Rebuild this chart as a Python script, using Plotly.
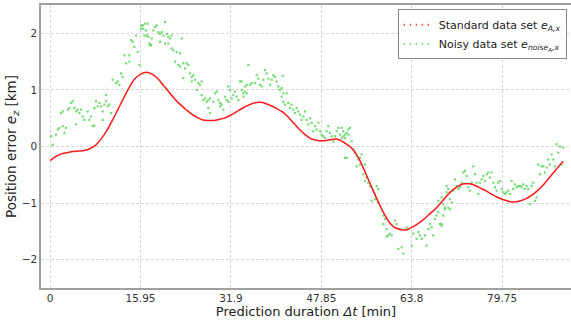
import plotly.graph_objects as go

# Standard data set (smooth curve)
std_t = [0, 1, 2, 3, 4, 5, 6, 7, 8, 9, 10, 11, 12, 13, 14, 15, 16, 17, 18, 19, 20,
         21, 22, 23, 24, 25, 26, 27, 28, 29, 30, 31, 32, 33, 34, 35, 36, 37, 38, 39, 40,
         41, 42, 43, 44, 45, 46, 47, 48, 49, 50, 51, 52, 53, 54, 55, 56, 57, 58, 59, 60,
         61, 62, 63, 64, 65, 66, 67, 68, 69, 70, 71, 72, 73, 74, 75, 76, 77, 78, 79, 80,
         81, 82, 83, 84, 85, 86, 87, 88, 89, 90, 90.5]
std_v = [-0.25, -0.18, -0.13, -0.11, -0.09, -0.08, -0.07, -0.04, 0.02, 0.13, 0.28, 0.46, 0.66, 0.86, 1.05, 1.2, 1.28, 1.31, 1.28, 1.2, 1.08,
         0.96, 0.84, 0.74, 0.65, 0.57, 0.51, 0.47, 0.46, 0.46, 0.48, 0.51, 0.56, 0.62, 0.68, 0.73, 0.77, 0.78, 0.76, 0.72, 0.67,
         0.61, 0.52, 0.41, 0.3, 0.21, 0.14, 0.11, 0.1, 0.11, 0.13, 0.12, 0.06, -0.01, -0.13, -0.32, -0.55, -0.78, -1.0, -1.2, -1.36,
         -1.44, -1.47, -1.47, -1.42, -1.36, -1.28, -1.19, -1.1, -0.99, -0.87, -0.77, -0.7, -0.66, -0.66, -0.69, -0.74, -0.79, -0.85, -0.9, -0.94,
         -0.97, -0.98, -0.96, -0.92, -0.86, -0.78, -0.68, -0.56, -0.44, -0.32, -0.26]

# Noisy data set (scattered points)
noisy_t = [0.18, 1.06, 0.47, 1.35, 1.65, 2.24, 2.53, 2.82, 1.94, 2.24, 3.12, 3.41, 3.7, 4.0, 4.29, 4.59, 4.88, 5.17, 5.47, 5.76,
           6.05, 4.59, 6.64, 6.94, 7.23, 7.52, 7.82, 7.82, 8.11, 8.4, 8.7, 9.0, 9.29, 9.29, 9.58, 9.88, 10.17, 10.47, 10.76, 9.88,
           11.05, 11.64, 11.93, 12.23, 12.52, 12.81, 13.11, 13.4, 13.99, 13.99, 14.29, 14.58, 14.87, 15.17, 15.46, 15.76, 16.05, 16.34, 16.64, 16.93,
           17.22, 17.52, 17.81, 16.17, 16.46, 16.75, 17.05, 17.34, 17.64, 17.93, 18.22, 18.52, 18.81, 19.11, 19.4, 19.7, 19.99, 20.28, 20.58, 20.87,
           21.16, 21.46, 19.4, 20.28, 20.87, 23.22, 21.46, 21.75, 22.34, 22.93, 22.05, 22.63, 22.93, 23.51, 23.81, 24.1, 24.4, 23.51, 24.69, 24.99,
           25.28, 24.99, 25.57, 25.87, 26.16, 26.46, 26.75, 26.75, 27.04, 27.34, 27.63, 27.93, 28.22, 27.93, 28.22, 28.81, 29.1, 29.4, 29.69, 29.98,
           29.98, 30.28, 30.57, 30.86, 31.16, 31.45, 31.45, 31.75, 32.04, 32.33, 32.63, 32.92, 33.21, 33.51, 33.8, 34.1, 34.39, 34.69, 34.98, 33.8,
           34.39, 34.69, 34.1, 35.27, 35.57, 36.16, 36.45, 36.75, 37.04, 37.33, 37.63, 37.92, 38.21, 38.51, 38.8, 39.1, 39.39, 39.68, 39.98, 40.27,
           40.56, 40.86, 41.04, 41.15, 41.74, 40.86, 41.15, 41.45, 42.03, 42.33, 42.62, 42.92, 43.21, 43.51, 43.8, 44.09, 44.39, 44.68, 44.97, 45.27,
           45.56, 45.86, 46.15, 46.44, 46.74, 47.03, 47.33, 47.62, 47.91, 48.21, 48.5, 48.8, 49.09, 49.38, 49.68, 49.97, 50.26, 50.56, 50.85, 51.15,
           51.44, 51.73, 52.03, 52.32, 52.62, 51.44, 51.73, 52.03, 52.32, 52.62, 52.91, 53.2, 52.03, 53.5, 53.79, 54.09, 54.38, 54.67, 54.97, 54.09,
           54.67, 55.56, 55.26, 55.56, 55.85, 56.14, 56.44, 56.73, 57.03, 57.32, 57.62, 57.91, 56.73, 57.32, 57.91, 58.2, 58.5, 58.79, 59.08, 58.79,
           59.38, 59.96, 60.26, 59.67, 59.38, 60.85, 61.14, 61.73, 62.02, 61.43, 62.32, 62.9, 63.2, 63.79, 64.08, 64.67, 64.97, 65.26, 65.56, 66.14,
           66.43, 66.73, 67.02, 67.32, 67.61, 67.9, 68.2, 68.49, 68.78, 69.08, 68.49, 69.08, 69.37, 69.67, 69.96, 70.26, 70.55, 69.96, 70.26, 69.08,
           69.37, 69.67, 70.55, 70.85, 71.14, 71.43, 71.73, 72.02, 72.31, 72.61, 72.9, 73.19, 73.49, 73.78, 74.07, 74.37, 74.66, 74.96, 75.25, 75.54,
           75.84, 76.13, 76.42, 76.72, 77.01, 77.31, 77.6, 77.9, 78.19, 78.48, 78.78, 79.07, 79.37, 79.66, 79.95, 80.25, 80.54, 80.83, 81.13, 81.42,
           81.72, 82.01, 82.3, 82.6, 82.89, 83.19, 83.48, 83.77, 84.07, 84.36, 84.66, 84.95, 85.24, 85.54, 85.83, 86.12, 86.42, 86.72, 87.0, 87.3,
           87.6, 87.89, 88.18, 88.48, 88.77, 89.07, 89.36, 89.65, 89.95, 90.25, 90.54]
noisy_v = [0.18, 0.21, 0.03, 0.30, 0.33, 0.36, 0.24, 0.33, 0.59, 0.62, 0.65, 0.68, 0.77, 0.80, 0.68, 0.62, 0.65, 0.59, 0.65, 0.53,
           0.47, 0.39, 0.62, 0.47, 0.53, 0.36, 0.37, 0.68, 0.80, 0.71, 0.77, 0.71, 0.62, 0.47, 0.74, 0.80, 0.71, 0.74, 0.59, 0.91,
           1.18, 1.12, 1.15, 1.09, 1.29, 1.23, 1.61, 1.47, 1.50, 1.61, 1.88, 1.85, 1.76, 1.96, 1.67, 1.44, 2.08, 2.14, 1.96, 2.05,
           2.17, 1.82, 1.79, 2.14, 2.08, 2.17, 1.96, 1.94, 1.79, 1.91, 2.05, 2.11, 2.14, 2.02, 1.99, 2.02, 1.96, 2.20, 1.99, 1.94,
           1.91, 1.96, 1.85, 1.82, 1.82, 1.91, 1.73, 1.70, 1.67, 1.65, 1.50, 1.44, 1.41, 1.47, 1.38, 1.47, 1.44, 1.21, 1.29, 1.23,
           1.26, 1.15, 1.18, 1.00, 1.12, 1.09, 1.15, 0.91, 0.82, 0.85, 0.79, 0.82, 0.85, 0.68, 0.59, 0.79, 0.94, 0.97, 0.82, 0.77,
           0.71, 0.74, 0.65, 0.88, 0.82, 0.79, 1.06, 1.00, 0.85, 0.91, 0.97, 0.88, 0.82, 1.15, 1.00, 0.94, 0.97, 1.09, 1.44, 1.15,
           1.06, 0.94, 0.88, 1.09, 1.12, 1.12, 1.26, 1.20, 1.09, 1.06, 1.18, 1.35, 1.29, 1.20, 1.09, 1.18, 1.26, 1.23, 1.15, 1.06,
           1.00, 1.03, 1.25, 0.94, 0.94, 0.88, 0.79, 0.74, 0.77, 0.68, 0.74, 0.65, 0.59, 0.68, 0.62, 0.56, 0.47, 0.53, 0.62, 0.47,
           0.39, 0.50, 0.42, 0.27, 0.36, 0.30, 0.42, 0.27, 0.21, 0.18, 0.15, 0.27, 0.36, 0.24, 0.18, 0.09, 0.18, 0.27, 0.33, 0.21,
           0.15, 0.27, 0.21, -0.20, 0.30, 0.33, 0.18, 0.15, 0.24, 0.21, 0.33, 0.09, -0.20, -0.05, -0.11, -0.17, -0.23, -0.20, -0.14, -0.35,
           -0.32, -0.32, -0.49, -0.61, -0.55, -0.64, -0.70, -0.72, -0.78, -0.84, -0.70, -0.75, -0.96, -0.93, -0.99, -1.05, -1.13, -1.22, -1.28, -1.37,
           -1.46, -1.54, -1.57, -1.57, -1.59, -1.31, -1.37, -1.46, -1.78, -1.81, -1.89, -1.43, -1.46, -1.75, -1.54, -1.63, -1.51, -1.57, -1.63, -1.57,
           -1.75, -1.46, -1.37, -1.43, -1.57, -1.28, -1.22, -1.16, -1.37, -1.40, -0.96, -0.90, -1.02, -1.11, -0.81, -1.08, -0.93, -0.70, -0.75, -1.37,
           -1.22, -1.08, -1.11, -0.99, -0.78, -0.58, -0.70, -0.75, -0.72, -0.64, -0.46, -0.43, -0.52, -0.72, -0.78, -0.64, -0.35, -0.49, -0.64, -0.84,
           -0.64, -0.58, -0.52, -0.61, -0.49, -0.46, -0.55, -0.46, -0.64, -0.72, -0.78, -0.64, -0.61, -0.75, -0.81, -0.84, -0.81, -0.78, -0.84, -0.61,
           -0.75, -0.67, -0.72, -0.70, -0.70, -0.72, -0.67, -0.75, -0.70, -0.75, -1.02, -0.70, -0.64, -0.96, -0.90, -0.32, -0.49, -0.35, -0.35, -0.46,
           -0.37, -0.23, -0.32, -0.14, -0.23, -0.35, 0.04, -0.11, 0.00, -0.32, -0.02]

x_tickvals = [0, 15.95, 31.9, 47.85, 63.8, 79.75]
x_ticktext = ["0", "15.95", "31.9", "47.85", "63.8", "79.75"]
y_tickvals = [-2, -1, 0, 1, 2]
y_ticktext = ["\u22122", "\u22121", "0", "1", "2"]

std_name = "Standard data set <i>e<sub>A,x</sub></i>"
noisy_name = "Noisy data set <i>e<sub>noise<sub>A</sub>,x</sub></i>"

fig = go.Figure()
fig.add_trace(go.Scatter(x=noisy_t, y=noisy_v, mode="markers", showlegend=False,
                         marker=dict(symbol="square", size=2.2, color="rgba(60,205,60,0.7)", line=dict(width=0))))
fig.add_trace(go.Scatter(x=std_t, y=std_v, mode="lines", showlegend=False,
                         line=dict(color="rgb(255,25,25)", width=1.5, shape="spline", smoothing=1.0)))
# legend entries
fig.add_trace(go.Scatter(x=[None], y=[None], mode="lines", name=std_name,
                         line=dict(color="red", width=1.8, dash="1px,5px")))
fig.add_trace(go.Scatter(x=[None], y=[None], mode="lines", name=noisy_name,
                         line=dict(color="rgb(60,210,60)", width=1.8, dash="1px,5px")))

grid = "rgba(215,215,215,1)"
fig.update_layout(
    width=571, height=322,
    margin=dict(l=41, r=0, t=5, b=34),
    paper_bgcolor="white", plot_bgcolor="white",
    font=dict(family="DejaVu Sans", size=11, color="#333333"),
    xaxis=dict(range=[-1.6, 91.9], tickvals=x_tickvals, ticktext=x_ticktext,
               showgrid=True, gridcolor=grid, griddash="3px,2px", gridwidth=1,
               showline=True, linecolor="#a0a0a0", linewidth=1.5, mirror=True,
               zeroline=False, ticks="", tickfont=dict(size=10.5),
               title=dict(text="Prediction duration <i>\u0394t</i> [min]", font=dict(size=13, color="#222222"), standoff=0)),
    yaxis=dict(range=[-2.5, 2.5], tickvals=y_tickvals, ticktext=y_ticktext,
               showgrid=True, gridcolor=grid, griddash="3px,2px", gridwidth=1,
               showline=True, linecolor="#a0a0a0", linewidth=1.5, mirror=False,
               zeroline=False, ticks="", tickfont=dict(size=10.5),
               title=dict(text="Position error <i>e<sub>z</sub></i> [km]", font=dict(size=13.5, color="#222222"), standoff=2)),
    legend=dict(x=0.992, y=0.985, xanchor="right", yanchor="top",
                bgcolor="white", bordercolor="#888888", borderwidth=1,
                font=dict(size=11, color="#222222"), itemwidth=30, tracegroupgap=0),
)

fig.write_html("out.html")
